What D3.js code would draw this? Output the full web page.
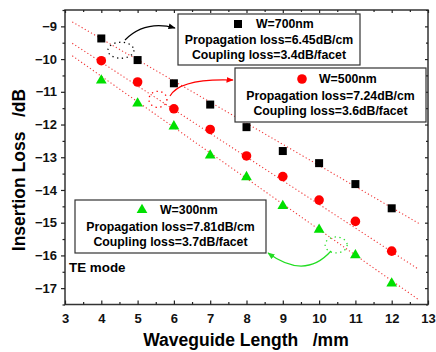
<!DOCTYPE html>
<html>
<head>
<meta charset="utf-8">
<script src="https://cdn.jsdelivr.net/npm/d3@7"></script>
<style>
  body { margin: 0; background: #fff; }
  svg { display: block; font-family: "Liberation Sans", Arial, sans-serif; font-weight: bold; }
</style>
</head>
<body>
<svg id="chart" width="436" height="352"></svg>
<script>
// waveguide lengths in mm
const lengths = [4, 5, 6, 7, 8, 9, 10, 11, 12];

// measured insertion loss (dB) per waveguide width
const loss700 = [-9.37, -10.03, -10.74, -11.39, -12.08, -12.81, -13.18, -13.82, -14.56];
const loss500 = [-10.05, -10.70, -11.52, -12.15, -12.96, -13.59, -14.31, -14.96, -15.87];
const loss300 = [-10.67, -11.37, -12.07, -12.96, -13.62, -14.50, -15.23, -16.01, -16.87];

const widths = ['W=700nm', 'W=500nm', 'W=300nm'];
const propLoss = [6.45, 7.24, 7.81];   // dB/cm
const coupLoss = [3.4, 3.6, 3.7];      // dB/facet
const fitRange = [3.2, 12.75];

const xTicks = [3, 4, 5, 6, 7, 8, 9, 10, 11, 12, 13];
const yTicks = [-9, -10, -11, -12, -13, -14, -15, -16, -17];

const svg = d3.select('#chart');
const pL = 65, pR = 428, pT = 10, pB = 304.5;

const x = d3.scaleLinear().domain([3, 13]).range([pL, pR]);
const y = d3.scaleLinear().domain([-17.5, -8.5]).range([pB, pT]);

// fit lines (dotted red)
[loss700, loss500, loss300].forEach(function (vals, i) {
  const f = function (l) { return -2 * coupLoss[i] - propLoss[i] / 10 * l; };
  svg.append('line')
    .attr('x1', x(fitRange[0])).attr('y1', y(f(fitRange[0])))
    .attr('x2', x(fitRange[1])).attr('y2', y(f(fitRange[1])))
    .attr('stroke', '#f03838')
    .attr('stroke-width', 1.1)
    .attr('stroke-dasharray', '1.2,2.4');
});

// markers
const pts = function (vals) { return lengths.map(function (l, j) { return [l, vals[j]]; }); };

svg.append('g').selectAll('rect').data(pts(loss700)).join('rect')
  .attr('x', function (d) { return x(d[0]) - 4; })
  .attr('y', function (d) { return y(d[1]) - 4; })
  .attr('width', 8).attr('height', 8)
  .attr('fill', '#000');

svg.append('g').selectAll('circle').data(pts(loss500)).join('circle')
  .attr('cx', function (d) { return x(d[0]); })
  .attr('cy', function (d) { return y(d[1]); })
  .attr('r', 4.8)
  .attr('fill', '#ff0000');

const tri = d3.symbol().type(d3.symbolTriangle).size(50);
svg.append('g').selectAll('path').data(pts(loss300)).join('path')
  .attr('d', tri)
  .attr('transform', function (d) { return 'translate(' + x(d[0]) + ',' + (y(d[1]) - 0.5) + ')'; })
  .attr('fill', '#00e000');

// frame
svg.append('rect')
  .attr('x', pL).attr('y', pT)
  .attr('width', pR - pL).attr('height', pB - pT)
  .attr('fill', 'none').attr('stroke', '#333').attr('stroke-width', 1.5);

// axes
const xMinor = d3.range(3.5, 13, 1);
const yMinor = d3.range(-17.5, -8.5, 1).concat([-8.5]);

svg.append('g').attr('transform', 'translate(0,' + pB + ')')
  .call(d3.axisBottom(x).tickValues(xTicks).tickSize(-4).tickPadding(9).tickFormat(d3.format('d')));
svg.append('g').attr('transform', 'translate(' + pL + ',0)')
  .call(d3.axisLeft(y).tickValues(yTicks).tickSize(4).tickPadding(4).tickFormat(d3.format('d')));
svg.append('g').attr('transform', 'translate(0,' + pT + ')')
  .call(d3.axisTop(x).tickValues(xTicks).tickSize(-3).tickFormat(''));
svg.append('g').attr('transform', 'translate(' + pR + ',0)')
  .call(d3.axisRight(y).tickValues(yTicks).tickSize(-3).tickFormat(''));
svg.append('g').attr('transform', 'translate(0,' + pB + ')')
  .call(d3.axisBottom(x).tickValues(xMinor).tickSize(-2.5).tickFormat(''));
svg.append('g').attr('transform', 'translate(' + pL + ',0)')
  .call(d3.axisLeft(y).tickValues(yMinor).tickSize(2.5).tickFormat(''));
svg.append('g').attr('transform', 'translate(0,' + pT + ')')
  .call(d3.axisTop(x).tickValues(xMinor).tickSize(-2).tickFormat(''));
svg.append('g').attr('transform', 'translate(' + pR + ',0)')
  .call(d3.axisRight(y).tickValues(yMinor).tickSize(-2).tickFormat(''));

svg.selectAll('.domain').remove();
svg.selectAll('.tick line').attr('stroke', '#222').attr('stroke-width', 1.2);
svg.selectAll('.tick text')
  .attr('font-family', '"Liberation Sans", Arial, sans-serif')
  .attr('font-weight', 'bold')
  .attr('font-size', 13)
  .attr('fill', '#111');

// axis titles
svg.append('text')
  .attr('x', 246).attr('y', 346)
  .attr('text-anchor', 'middle')
  .attr('font-size', 17.5)
  .style('white-space', 'pre')
  .text('Waveguide Length   /mm');

svg.append('text')
  .attr('transform', 'translate(25,170) rotate(-90)')
  .attr('text-anchor', 'middle')
  .attr('font-size', 17.5)
  .style('white-space', 'pre')
  .text('Insertion Loss   /dB');

svg.append('text')
  .attr('x', 69).attr('y', 271.5)
  .attr('font-size', 13.4)
  .text('TE mode');

// legend boxes
const boxes = [
  { x0: 178, y0: 14, x1: 360, y1: 65, mx: 238, tx: 256, l1: 24, l2: 40, l3: 55 },
  { x0: 235, y0: 68, x1: 426, y1: 122, mx: 302, tx: 319, l1: 79, l2: 95.5, l3: 111 },
  { x0: 75, y0: 200, x1: 266, y1: 253, mx: 142, tx: 160, l1: 210, l2: 226.5, l3: 241.5 }
];

boxes.forEach(function (b, i) {
  const g = svg.append('g');
  g.append('rect')
    .attr('x', b.x0).attr('y', b.y0)
    .attr('width', b.x1 - b.x0).attr('height', b.y1 - b.y0)
    .attr('fill', '#fff').attr('stroke', '#333').attr('stroke-width', 1.2);
  if (i === 0) {
    g.append('rect').attr('x', b.mx - 4).attr('y', b.l1 - 4).attr('width', 8).attr('height', 8).attr('fill', '#000');
  } else if (i === 1) {
    g.append('circle').attr('cx', b.mx).attr('cy', b.l1).attr('r', 4.8).attr('fill', '#ff0000');
  } else {
    g.append('path').attr('d', tri).attr('transform', 'translate(' + b.mx + ',' + b.l1 + ')').attr('fill', '#00e000');
  }
  const cx = (b.x0 + b.x1) / 2;
  g.append('text').attr('x', b.tx).attr('y', b.l1).attr('dy', '0.36em')
    .attr('font-size', 12.3).text(widths[i]);
  g.append('text').attr('x', cx).attr('y', b.l2).attr('dy', '0.36em')
    .attr('text-anchor', 'middle').attr('font-size', 12.3)
    .text('Propagation loss=' + propLoss[i].toFixed(2) + 'dB/cm');
  g.append('text').attr('x', cx).attr('y', b.l3).attr('dy', '0.36em')
    .attr('text-anchor', 'middle').attr('font-size', 12.3)
    .text('Coupling loss=' + coupLoss[i].toFixed(1) + 'dB/facet');
});

// dotted ellipses + arrows
const defs = svg.append('defs');
[['ahK', '#000'], ['ahR', '#ff0000'], ['ahG', '#22dd22']].forEach(function (m) {
  defs.append('marker').attr('id', m[0])
    .attr('viewBox', '0 0 10 10').attr('refX', 9).attr('refY', 5)
    .attr('markerWidth', 6).attr('markerHeight', 6).attr('orient', 'auto')
    .append('path').attr('d', 'M0,1 L10,5 L0,9 Z').attr('fill', m[1]);
});

const notes = [
  { cx: 4.54, cy: -9.73, rx: 13, ry: 8, col: '#000', m: 'ahK', path: 'M125,40 Q145,20 175,28' },
  { cx: 5.56, cy: -11.23, rx: 9, ry: 8, col: '#ff0000', m: 'ahR', path: 'M170,96 Q180,78 233,80' },
  { cx: 10.47, cy: -15.68, rx: 11, ry: 8, col: '#22dd22', m: 'ahG', path: 'M331,251 Q305,280 268,253' }
];
notes.forEach(function (n) {
  svg.append('ellipse')
    .attr('cx', x(n.cx)).attr('cy', y(n.cy))
    .attr('rx', n.rx).attr('ry', n.ry)
    .attr('fill', 'none').attr('stroke', n.col)
    .attr('stroke-width', 1.3).attr('stroke-dasharray', '1.3,3.5');
  svg.append('path')
    .attr('d', n.path)
    .attr('fill', 'none').attr('stroke', n.col).attr('stroke-width', 1.2)
    .attr('marker-end', 'url(#' + n.m + ')');
});
</script>
</body>
</html>
